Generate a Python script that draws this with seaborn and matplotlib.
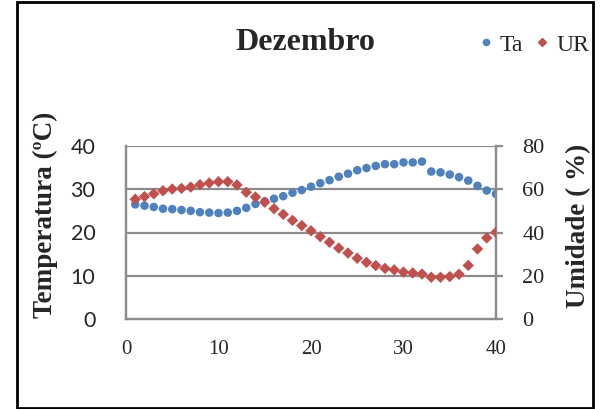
import numpy as np
import pandas as pd
import matplotlib
matplotlib.use("Agg")
import matplotlib.pyplot as plt
from matplotlib.lines import Line2D
from matplotlib.patches import Rectangle
import seaborn as sns

# Data (day index, air temperature, relative humidity)
dias = list(range(1, 41))
ta = [26.5, 26.2, 25.9, 25.5, 25.4, 25.2, 25.0, 24.7, 24.6, 24.5,
      24.6, 25.0, 25.7, 26.6, 27.2, 27.8, 28.4, 29.2, 29.8, 30.6,
      31.4, 32.1, 32.9, 33.6, 34.4, 34.9, 35.4, 35.8, 35.8, 36.2,
      36.2, 36.4, 34.1, 33.9, 33.4, 32.8, 32.0, 30.8, 29.7, 28.9]
ur = [55.4, 56.6, 57.9, 59.3, 60.1, 60.4, 61.0, 62.1, 62.9, 63.5,
      63.5, 62.0, 58.6, 56.4, 54.0, 51.0, 48.4, 45.6, 43.2, 40.8,
      38.1, 35.5, 32.8, 30.5, 28.1, 26.2, 24.7, 23.4, 22.7, 21.7,
      21.3, 20.8, 19.3, 19.3, 19.6, 20.7, 24.8, 32.4, 37.5, 40.1]

x_ticks = [0, 10, 20, 30, 40]
t_ticks = [0, 10, 20, 30, 40]
u_ticks = [0, 20, 40, 60, 80]

df = pd.DataFrame({"dia": dias, "Ta": ta, "UR": ur})

blue = "#4F81BD"
red = "#C0504D"
grid_c = "#8C8C8C"
serif = "Liberation Serif"

sns.set_style("white")

fig = plt.figure(figsize=(6.01, 4.09), dpi=100)
ax = fig.add_axes([126 / 601, 1 - 319 / 409, 370 / 601, 173 / 409])
ax2 = ax.twinx()

sns.scatterplot(data=df, x="dia", y="Ta", ax=ax, color=blue, marker="o",
                s=38, edgecolor="none", zorder=3)
sns.scatterplot(data=df, x="dia", y="UR", ax=ax2, color=red, marker="D",
                s=34, edgecolor="none", zorder=3)

ax.set_xlim(0, 40)
ax.set_ylim(0, 40)
ax2.set_ylim(0, 80)
ax.set_xticks(x_ticks)
ax.set_yticks(t_ticks)
ax2.set_yticks(u_ticks)

for y in t_ticks[1:]:
    ax.axhline(y, color=grid_c, lw=1.6, zorder=1)

for a in (ax, ax2):
    for s in a.spines.values():
        s.set_color(grid_c)
        s.set_linewidth(1.6)
    a.spines["top"].set_visible(False)

ax.tick_params(axis="x", length=0, pad=15, labelsize=15)
ax.tick_params(axis="y", length=0, pad=22, labelsize=15.5)
ax2.tick_params(axis="y", length=5, width=1.6, color=grid_c, pad=14,
                labelsize=16)
for lbl in ax.get_xticklabels():
    lbl.set_fontfamily(serif)
for lbl in ax.get_yticklabels():
    lbl.set_fontfamily("Lato")
for lbl in ax2.get_yticklabels():
    lbl.set_fontfamily(serif)

ax.set_xlabel("")
ax.set_ylabel("Temperatura (ºC)", fontfamily=serif, fontweight="bold",
              fontsize=19.5)
ax.yaxis.set_label_coords(-0.184, 0.60)
ax2.set_ylabel("Umidade ( %)", fontfamily=serif, fontweight="bold",
               fontsize=19.5)
ax2.yaxis.set_label_coords(1.189, 0.54)

fig.text(305 / 601, 1 - 42 / 409, "Dezembro", ha="center", va="center",
         fontfamily=serif, fontweight="bold", fontsize=23)

handles = [Line2D([], [], ls="", marker="o", color=blue, markersize=4.5),
           Line2D([], [], ls="", marker="D", color=red, markersize=3.8)]
fig.legend(handles, ["Ta", "UR"], loc="center", ncol=2,
           bbox_to_anchor=(534 / 601, 1 - 45 / 409), frameon=False,
           prop={"family": serif, "size": 17}, handlelength=0.6,
           handletextpad=0.3, columnspacing=0.5)

fig.add_artist(Rectangle((17 / 601, 1 / 409), 576 / 601, 406 / 409,
                         transform=fig.transFigure, fill=False,
                         edgecolor="black", lw=2))

fig.savefig("out.png", dpi=100)
